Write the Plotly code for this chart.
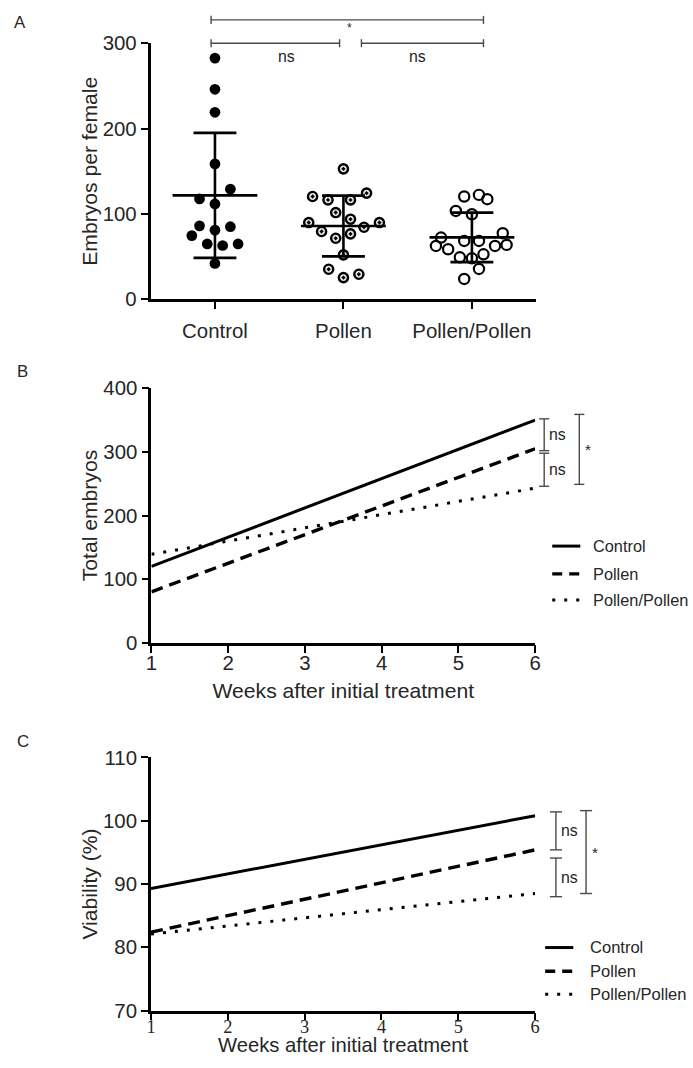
import numpy as np
import plotly.graph_objects as go

W, H = 693, 1068
# The photographed page shows the figure offset by the body margin and slightly
# scaled; positions below are given in photo pixels and mapped to figure pixels.
S, OFF = 0.979, 8

# ---------------- data ----------------
categories = ["Control", "Pollen", "Pollen/Pollen"]

control_vals = [282.5, 246, 219, 158.6, 129, 117.6, 111.7, 86, 85, 81, 74.6, 64.8, 63, 64.8, 42]
control_jit = [0, 0, 0, 0, 0.12, -0.12, 0, -0.12, 0.12, 0, -0.18, -0.06, 0.06, 0.18, 0]

pollen_vals = [152.8, 120.4, 116.4, 116.4, 124.3, 101.6, 93.8, 89.9, 89.9, 84.4, 79.4, 71.5, 76.6, 52, 35.2, 25.4, 29.3]
pollen_jit = [0, -0.24, -0.12, 0.055, 0.18, -0.06, 0.055, -0.27, 0.28, 0.16, -0.17, -0.06, 0.055, 0, -0.115, 0, 0.12]

pp_vals = [120.4, 122.3, 117.2, 103.5, 99.6, 72.3, 68.3, 68.3, 77.4, 62.5, 58.6, 62.5, 63.7, 49.2, 48, 52.7, 35.5, 23.8]
pp_jit = [-0.06, 0.055, 0.12, -0.125, 0, -0.24, -0.06, 0.055, 0.24, -0.28, -0.185, 0.18, 0.27, -0.094, 0, 0.09, 0.055, -0.06]

weeks = [1, 6]
total_control = [120, 350]
total_pollen = [80, 305]
total_pp = [139, 243]

viab_control = [89.3, 100.8]
viab_pollen = [82.4, 95.4]
viab_pp = [82.1, 88.5]

week_ticks = [1, 2, 3, 4, 5, 6]

# significance brackets
sigA = [  # (x0 cat, x1 cat, y value, label, label x cat)
    (-0.03, 2.09, 327.3, "*", 1.05),
    (-0.03, 0.97, 300, "ns", 0.56),
    (1.14, 2.09, 300, "ns", 1.58),
]
sigB = [  # (px right of plot, y0, y1, label)
    (9, 302, 352, "ns"),
    (9, 246, 298, "ns"),
    (44, 249, 359, "*"),
]
sigC = [
    (20.7, 95.4, 101.4, "ns"),
    (20.7, 88.0, 94.1, "ns"),
    (50.7, 88.5, 101.6, "*"),
]


# ---------------- geometry ----------------
def fpx(v):  # photo pixel position -> figure pixel position
    return v / S - OFF


def fsz(v):  # photo pixel size -> figure pixel size
    return v / S


def panel(x0, x1, top, bot, xr, yr):
    return dict(x0=fpx(x0), x1=fpx(x1), top=fpx(top), bot=fpx(bot), xr=xr, yr=yr)


PA = panel(152, 536, 40, 296, (-0.5, 2.5), (0, 300))
PB = panel(152.7, 535, 385, 639.3, (1, 6), (0, 400))
PC = panel(152.3, 535, 754, 1007, (1, 6), (70, 110))

LEG_B = dict(sx=(552, 580), tx=591, rows=(542.7, 570.5, 596.7))
LEG_C = dict(sx=(545, 573), tx=588, rows=(944, 967.7, 990.7))


def dom_x(p):
    return [p["x0"] / W, p["x1"] / W]


def dom_y(p):
    return [1 - p["bot"] / H, 1 - p["top"] / H]


def fx(p, v):
    return (v - p["xr"][0]) / (p["xr"][1] - p["xr"][0])


def fy(p, v):
    return (v - p["yr"][0]) / (p["yr"][1] - p["yr"][0])


def pxw(p, d):
    return fsz(d) / (p["x1"] - p["x0"])


def pxh(p, d):
    return fsz(d) / (p["bot"] - p["top"])


def paper_x(px):
    return fpx(px) / W


def paper_y(py):
    return 1 - fpx(py) / H


TXT = "#262626"
FONT = "Liberation Sans, Arial, sans-serif"
BR = "#4a4a4a"

LINE_STYLES = [
    dict(color="black", width=3, dash="solid"),
    dict(color="black", width=3.4, dash="12px,7px"),
    dict(color="black", width=3, dash="3px,9px"),
]
LEGEND_STYLES = [
    dict(color="black", width=3, dash="solid"),
    dict(color="black", width=3.4, dash="10px,7px"),
    dict(color="black", width=3, dash="3px,9px"),
]

fig = go.Figure()

# ---------------- panel A ----------------
groups = [
    (control_vals, control_jit, dict(symbol="circle", size=fsz(10.5), color="black", line=dict(width=0))),
    (pollen_vals, pollen_jit, dict(symbol="circle-dot", size=fsz(9), color="#ececec", line=dict(width=2.4, color="black"))),
    (pp_vals, pp_jit, dict(symbol="circle-open", size=fsz(10), color="black", line=dict(width=2.2, color="black"))),
]
for i, (vals, jit, mk) in enumerate(groups):
    fig.add_trace(go.Scatter(
        x=[i + j for j in jit], y=vals, mode="markers", marker=mk, name=categories[i],
        xaxis="x", yaxis="y", showlegend=False, hoverinfo="y", cliponaxis=False,
    ))
for i, (vals, jit, mk) in enumerate(groups):
    m = float(np.mean(vals))
    sd = float(np.std(vals, ddof=1))
    fig.add_trace(go.Scatter(
        x=[i - 0.33, i + 0.33], y=[m, m], mode="lines",
        line=dict(color="black", width=2.6), xaxis="x", yaxis="y", showlegend=False,
    ))
    fig.add_trace(go.Scatter(
        x=[i], y=[m], mode="markers", marker=dict(size=1, color="black", opacity=0),
        error_y=dict(type="data", array=[sd], visible=True, width=fsz(21), thickness=2.6, color="black"),
        xaxis="x", yaxis="y", showlegend=False,
    ))

shapes = []
annos = []
for (c0, c1, yv, lab, lx) in sigA:
    y = fy(PA, yv)
    cap = pxh(PA, 4)
    shapes.append(dict(type="line", xref="x domain", yref="y domain", x0=fx(PA, c0), x1=fx(PA, c1), y0=y, y1=y,
                       line=dict(color=BR, width=1.4)))
    for c in (c0, c1):
        shapes.append(dict(type="line", xref="x domain", yref="y domain", x0=fx(PA, c), x1=fx(PA, c),
                           y0=y - cap, y1=y + cap, line=dict(color=BR, width=1.4)))
    if lab == "*":
        annos.append(dict(text="*", xref="x domain", yref="y domain", x=fx(PA, lx), y=y - pxh(PA, 8),
                          showarrow=False, font=dict(size=fsz(12), color=TXT, family=FONT),
                          xanchor="center", yanchor="middle"))
    else:
        annos.append(dict(text=lab, xref="x domain", yref="y domain", x=fx(PA, lx), y=y - pxh(PA, 13),
                          showarrow=False, font=dict(size=fsz(15.5), color=TXT, family=FONT),
                          xanchor="center", yanchor="middle"))

# ---------------- panel B & C lines ----------------
for ys_list, xa, ya in [([total_control, total_pollen, total_pp], "x2", "y2"),
                        ([viab_control, viab_pollen, viab_pp], "x3", "y3")]:
    for k, ys in enumerate(ys_list):
        fig.add_trace(go.Scatter(
            x=weeks, y=ys, mode="lines", name=categories[k], line=LINE_STYLES[k],
            xaxis=xa, yaxis=ya, showlegend=False,
        ))


def vbrackets(P, xr, yr, specs, cap_px):
    for (off, y0, y1, lab) in specs:
        x = 1 + pxw(P, off)
        cw = pxw(P, cap_px)
        shapes.append(dict(type="line", xref=xr, yref=yr, x0=x, x1=x, y0=fy(P, y0), y1=fy(P, y1),
                           line=dict(color=BR, width=1.4)))
        for yy in (y0, y1):
            shapes.append(dict(type="line", xref=xr, yref=yr, x0=x - cw, x1=x + cw, y0=fy(P, yy), y1=fy(P, yy),
                               line=dict(color=BR, width=1.4)))
        size = 15 if lab == "*" else 15.5
        dx = 4 if lab == "*" else 3
        annos.append(dict(text=lab, xref=xr, yref=yr, x=x + pxw(P, dx), y=fy(P, (y0 + y1) / 2),
                          showarrow=False, font=dict(size=fsz(size), color=TXT, family=FONT),
                          xanchor="left", yanchor="middle"))


vbrackets(PB, "x2 domain", "y2 domain", sigB, 5)
vbrackets(PC, "x3 domain", "y3 domain", sigC, 6)


def manual_legend(L, fsize):
    for k, name in enumerate(categories):
        yy = paper_y(L["rows"][k])
        shapes.append(dict(type="line", xref="paper", yref="paper", x0=paper_x(L["sx"][0]), x1=paper_x(L["sx"][1]),
                           y0=yy, y1=yy, line=LEGEND_STYLES[k]))
        annos.append(dict(text=name, xref="paper", yref="paper", x=paper_x(L["tx"]), y=yy, showarrow=False,
                          xanchor="left", yanchor="middle", font=dict(size=fsz(fsize), color=TXT, family=FONT)))


manual_legend(LEG_B, 16)
manual_legend(LEG_C, 16.2)

# panel letters
annos.append(dict(text="A", xref="paper", yref="paper", x=paper_x(22), y=1, showarrow=False,
                  font=dict(size=fsz(16.5), color=TXT, family=FONT), xanchor="center", yanchor="top"))
for lab, (px, py) in zip(["B", "C"], [(24, 368), (25, 738)]):
    annos.append(dict(text=lab, xref="paper", yref="paper", x=paper_x(px), y=paper_y(py), showarrow=False,
                      font=dict(size=fsz(16.5), color=TXT, family=FONT), xanchor="center", yanchor="middle"))

# x title of panel C, kept inside the bottom edge of the figure
annos.append(dict(text="Weeks after initial treatment", xref="x3 domain", yref="paper", x=0.5, y=0,
                  xanchor="center", yanchor="bottom", showarrow=False, borderpad=0,
                  font=dict(size=fsz(19.8), color=TXT, family=FONT)))

# ---------------- axes ----------------
common = dict(showgrid=False, zeroline=False, showline=True, linecolor="black", linewidth=2.5,
              ticks="outside", ticklen=fsz(7), tickwidth=2.2, tickcolor="black",
              tickfont=dict(size=fsz(20), color=TXT, family=FONT),
              title_font=dict(size=fsz(20.7), color=TXT, family=FONT))
serif_ticks = dict(size=fsz(18), color=TXT, family="Liberation Serif, Times New Roman, serif")

fig.update_layout(
    width=W, height=H, margin=dict(l=0, r=0, t=0, b=0),
    paper_bgcolor="white", plot_bgcolor="white", showlegend=False,
    font=dict(family=FONT, color=TXT),
    shapes=shapes, annotations=annos,
    xaxis=dict(domain=dom_x(PA), range=list(PA["xr"]), tickvals=[0, 1, 2], ticktext=categories,
               anchor="y", ticklabelstandoff=4, **common),
    yaxis=dict(domain=dom_y(PA), range=list(PA["yr"]), tickvals=[0, 100, 200, 300], anchor="x",
               title=dict(text="Embryos per female", standoff=0), **common),
    xaxis2=dict(domain=dom_x(PB), range=list(PB["xr"]), tickvals=week_ticks, anchor="y2", ticklabelstandoff=-7,
                title=dict(text="Weeks after initial treatment", standoff=11), **common),
    yaxis2=dict(domain=dom_y(PB), range=list(PB["yr"]), tickvals=[0, 100, 200, 300, 400], anchor="x2",
                title=dict(text="Total embryos", standoff=0), **common),
    xaxis3=dict(domain=dom_x(PC), range=list(PC["xr"]), tickvals=week_ticks, anchor="y3", ticklabelstandoff=-10,
                **{k: v for k, v in common.items() if k != "tickfont"}, tickfont=serif_ticks),
    yaxis3=dict(domain=dom_y(PC), range=list(PC["yr"]), tickvals=[70, 80, 90, 100, 110], anchor="x3",
                title=dict(text="Viability (%)", standoff=0), **common),
)

fig.write_html("out.html")
